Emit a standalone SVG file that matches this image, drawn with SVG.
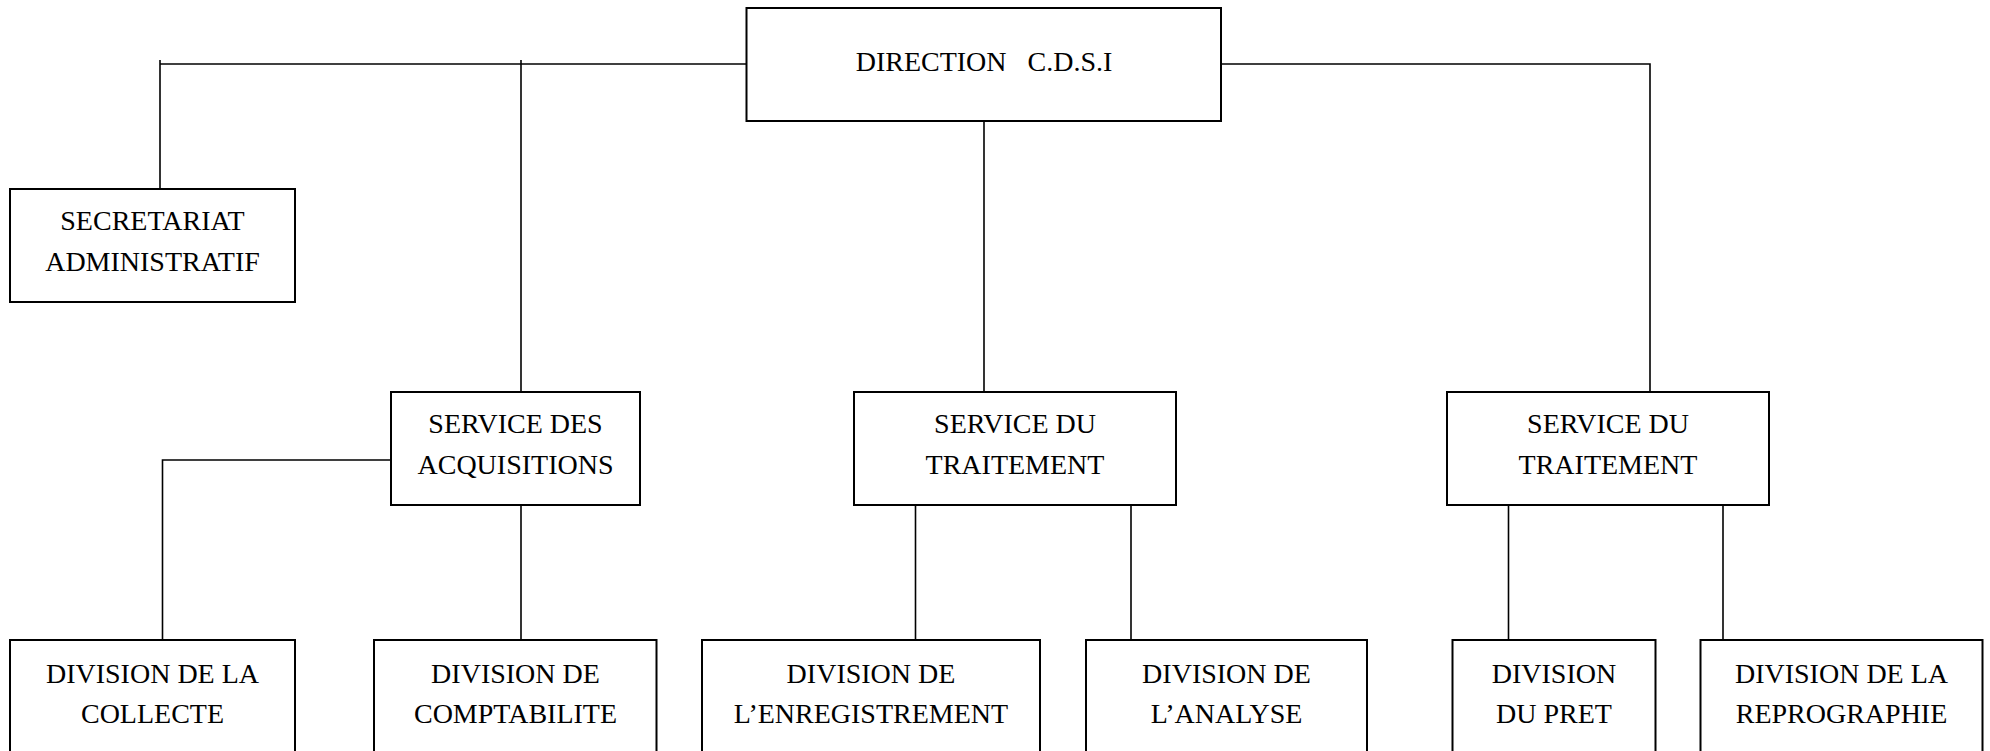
<svg xmlns="http://www.w3.org/2000/svg" width="1990" height="751" viewBox="0 0 1990 751">
<style>
rect.box{fill:#fff;stroke:#000;stroke-width:2}
text{font-family:"Liberation Serif","Times New Roman",serif;font-size:28px;fill:#000;text-anchor:middle;white-space:pre}
#connectors path{fill:none;stroke:#000;stroke-width:1.6}
</style>
<rect width="1990" height="751" fill="#fff"/>
<g id="connectors">
<path d="M160 64 H746.5"/>
<path d="M160 60 V289"/>
<path d="M521 60 V392"/>
<path d="M1221 64 H1650 V392"/>
<path d="M984 121 V392"/>
<path d="M391 460 H162.5 V640"/>
<path d="M521 505 V640"/>
<path d="M915.5 505 V640"/>
<path d="M1131 505 V640"/>
<path d="M1508.5 505 V640"/>
<path d="M1723 505 V640"/>
</g>
<g id="direction">
<rect class="box" x="746.5" y="8" width="474.5" height="113"/>
<text x="984" y="71" xml:space="preserve">DIRECTION   C.D.S.I</text>
</g>
<g id="secretariat">
<rect class="box" x="10" y="189" width="285" height="113"/>
<text x="152.5" y="230">SECRETARIAT</text>
<text x="152.5" y="271">ADMINISTRATIF</text>
</g>
<g id="service-acquisitions">
<rect class="box" x="391" y="392" width="249" height="113"/>
<text x="515.5" y="433">SERVICE DES</text>
<text x="515.5" y="474">ACQUISITIONS</text>
</g>
<g id="service-traitement-1">
<rect class="box" x="854" y="392" width="322" height="113"/>
<text x="1015" y="433">SERVICE DU</text>
<text x="1015" y="474">TRAITEMENT</text>
</g>
<g id="service-traitement-2">
<rect class="box" x="1447" y="392" width="322" height="113"/>
<text x="1608" y="433">SERVICE DU</text>
<text x="1608" y="474">TRAITEMENT</text>
</g>
<g id="division-collecte">
<rect class="box" x="10" y="640" width="285" height="130"/>
<text x="152.5" y="683">DIVISION DE LA</text>
<text x="152.5" y="723">COLLECTE</text>
</g>
<g id="division-comptabilite">
<rect class="box" x="374" y="640" width="282.5" height="130"/>
<text x="515.5" y="683">DIVISION DE</text>
<text x="515.5" y="723">COMPTABILITE</text>
</g>
<g id="division-enregistrement">
<rect class="box" x="702" y="640" width="338" height="130"/>
<text x="871" y="683">DIVISION DE</text>
<text x="871" y="723">L’ENREGISTREMENT</text>
</g>
<g id="division-analyse">
<rect class="box" x="1086" y="640" width="281" height="130"/>
<text x="1226.5" y="683">DIVISION DE</text>
<text x="1226.5" y="723">L’ANALYSE</text>
</g>
<g id="division-pret">
<rect class="box" x="1452.5" y="640" width="203" height="130"/>
<text x="1554" y="683">DIVISION</text>
<text x="1554" y="723">DU PRET</text>
</g>
<g id="division-reprographie">
<rect class="box" x="1700.5" y="640" width="282" height="130"/>
<text x="1841.5" y="683">DIVISION DE LA</text>
<text x="1841.5" y="723">REPROGRAPHIE</text>
</g>
</svg>
